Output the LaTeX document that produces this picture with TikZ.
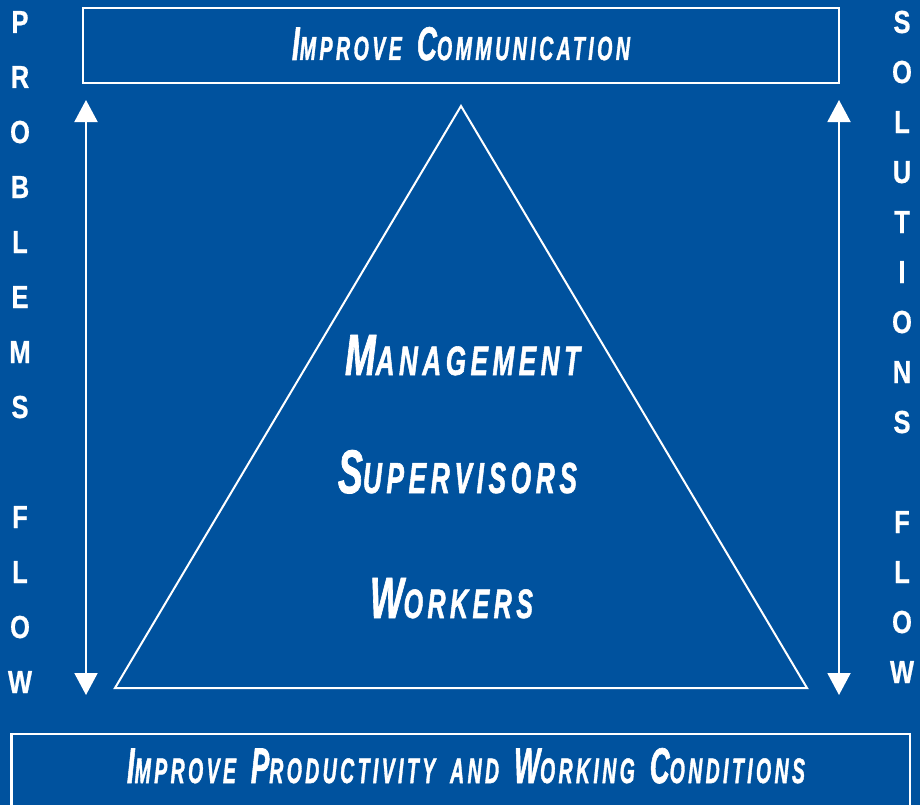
\documentclass[tikz,border=0pt]{standalone}
\usepackage{fontspec}
\usepackage{graphicx}
\usetikzlibrary{arrows.meta}
\newfontfamily\capfont[FakeStretch=0.8,FakeBold=1.4]{Liberation Sans}
\newfontfamily\sidefont[FakeStretch=0.8,FakeBold=0.6]{Liberation Sans}
\definecolor{bgblue}{RGB}{0,82,158}
\newcommand\Sc[2]{{\fontsize{46}{46}\selectfont #1}{\fontsize{32.5}{32.5}\selectfont\addfontfeature{LetterSpace=14}#2}}
\newcommand\Wsp{\hspace{20pt}}
\begin{document}
\begin{tikzpicture}[x=1bp,y=-1bp,
  frame/.style={draw=white,line width=2.5bp,minimum width=#1,inner sep=0pt},
  label/.style={anchor=base,inner sep=0pt,text=white,font=\capfont\bfseries\itshape\fontsize{32.5}{32.5}\selectfont},
  side/.style={anchor=base,inner sep=0pt,text=white,font=\sidefont\bfseries\fontsize{32}{32}\selectfont},
  flow/.style={draw=white,line width=2bp,{Triangle[width=23bp,length=22bp]}-{Triangle[width=23bp,length=22bp]}},
  tri/.style={draw=white,line width=2bp,line join=miter}]
\useasboundingbox (0,0) rectangle (920,805);
\fill[bgblue] (0,0) rectangle (920,805);
% boxes
\node[frame=756bp,minimum height=75bp] (topbox) at (461,45.5) {};
\node[frame=898.5bp,minimum height=74bp] (botbox) at (460.75,771) {};
% box texts
\node[label] (toptext) at (461,60) {\resizebox{338bp}{33bp}{\Sc{I}{MPROVE}\Wsp\Sc{C}{OMMUNICATION}}};
\node[label] (bottext) at (466,783) {\resizebox{678bp}{35bp}{\Sc{I}{MPROVE}\Wsp\Sc{P}{RODUCTIVITY}\Wsp\Sc{}{AND}\Wsp\Sc{W}{ORKING}\Wsp\Sc{C}{ONDITIONS}}};
% triangle
\coordinate (apex) at (461,106);
\coordinate (bl) at (115,688);
\coordinate (br) at (807,688);
\draw[tri] (apex) -- (bl) -- (br) -- cycle;
% triangle texts
\node[label] (mgmt) at (462.5,375) {\resizebox{235bp}{40bp}{\Sc{M}{ANAGEMENT}}};
\node[label] (sup) at (457.5,493) {\resizebox{239bp}{43bp}{\Sc{S}{UPERVISORS}}};
\node[label] (wrk) at (451.5,618) {\resizebox{163bp}{40bp}{\Sc{W}{ORKERS}}};
% arrows
\coordinate (lt) at (86,100);
\coordinate (lb) at (86,695);
\coordinate (rt) at (839,100);
\coordinate (rb) at (839,695);
\draw[flow] (lb) -- (lt);
\draw[flow] (rb) -- (rt);
% side letters
\foreach \ch [count=\i from 0] in {P,R,O,B,L,E,M,S,{},F,L,O,W}
  \node[side] (l\i) at (20,33+55*\i) {\ch};
\foreach \ch [count=\i from 0] in {S,O,L,U,T,I,O,N,S,{},F,L,O,W}
  \node[side] (r\i) at (902,33+50*\i) {\ch};
\end{tikzpicture}
\end{document}
